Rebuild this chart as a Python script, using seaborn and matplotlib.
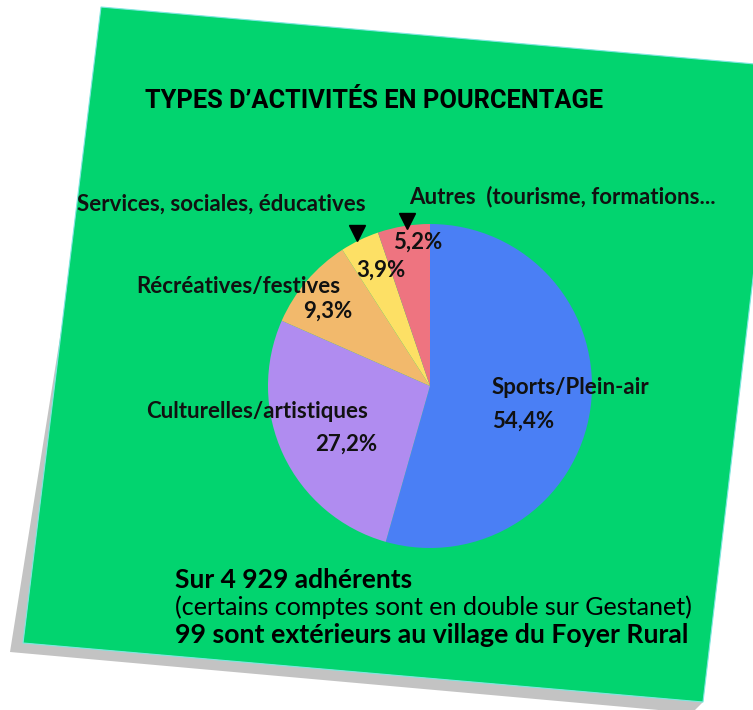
import matplotlib
matplotlib.use("Agg")
import matplotlib.pyplot as plt
from matplotlib.patches import Polygon
import seaborn as sns

sns.set_style("white")
plt.rcParams['font.family'] = ['Lato', 'DejaVu Sans']

# ---- data ----
categories = ["Sports/Plein-air", "Culturelles/artistiques", "Récréatives/festives",
              "Services, sociales, éducatives", "Autres  (tourisme, formations..."]
values = [54.4, 27.2, 9.3, 3.9, 5.2]
pct_labels = ["54,4%", "27,2%", "9,3%", "3,9%", "5,2%"]
colors = ["#4a7ff5", "#b08cf0", "#f2b96c", "#fde065", "#ee7480"]
title = "TYPES D\u2019ACTIVITÉS EN POURCENTAGE"
note_lines = ["Sur 4 929 adhérents",
              "(certains comptes sont en double sur Gestanet)",
              "99 sont extérieurs au village du Foyer Rural"]

W, H = 753, 710
fig = plt.figure(figsize=(W / 100, H / 100), dpi=100)
fig.patch.set_facecolor("white")

bg = fig.add_axes([0, 0, 1, 1])
bg.set_xlim(0, W)
bg.set_ylim(H, 0)
bg.axis("off")

# shadow and sticky note
shadow = Polygon([(66, 300), (10, 652), (692, 713), (703, 702), (23, 643)],
                 closed=True, facecolor="#c3c3c3", edgecolor="none", zorder=1)
bg.add_patch(shadow)
note = Polygon([(101, 7), (778, 66), (703, 702), (23, 643)], closed=True,
               facecolor="#02d46f", edgecolor="#7fe6e0", linewidth=0.8, zorder=2)
bg.add_patch(note)

# title
bg.text(145, 101, title, fontsize=18.3, fontweight="bold", color="black",
        ha="left", va="center", zorder=5, family=["Roboto", "DejaVu Sans"])

# pie
cx, cy, r = 430, 386, 162
pax = fig.add_axes([(cx - r) / W, (H - cy - r) / H, 2 * r / W, 2 * r / H])
pax.pie(values, colors=colors, startangle=90, counterclock=False,
        wedgeprops=dict(linewidth=0))
pax.set_xlim(-1, 1)
pax.set_ylim(-1, 1)
pax.set_aspect("equal")
pax.axis("off")

# labels
top = fig.add_axes([0, 0, 1, 1])
top.set_xlim(0, W)
top.set_ylim(H, 0)
top.axis("off")
top.patch.set_alpha(0)

fs = 16
lab_kw = dict(fontweight="bold", color="#111111", zorder=10, fontsize=fs)
top.text(492, 387, categories[0], ha="left", va="center", **lab_kw)
top.text(492, 421, pct_labels[0], ha="left", va="center", **lab_kw)
top.text(368, 412, categories[1], ha="right", va="center", **lab_kw)
top.text(346, 444, pct_labels[1], ha="center", va="center", **lab_kw)
top.text(340, 286, categories[2], ha="right", va="center", **lab_kw)
top.text(328, 311, pct_labels[2], ha="center", va="center", **lab_kw)
top.text(366, 204, categories[3], ha="right", va="center", **lab_kw)
top.text(409, 197, categories[4], ha="left", va="center", **lab_kw)
top.text(381, 270, pct_labels[3], ha="center", va="center", **lab_kw)
top.text(418, 242, pct_labels[4], ha="center", va="center", **lab_kw)

# arrow heads
top.plot([357.5], [233], marker="v", markersize=12, color="black", zorder=11)
top.plot([407.5], [221], marker="v", markersize=12, color="black", zorder=11)

# bottom notes
top.text(175, 580, note_lines[0], fontsize=19, fontweight="bold", ha="left",
         va="center", color="black")
top.text(175, 607, note_lines[1], fontsize=18.1, fontweight="normal", ha="left",
         va="center", color="black")
top.text(175, 635, note_lines[2], fontsize=19.2, fontweight="bold", ha="left",
         va="center", color="black")

fig.savefig("out.png", dpi=100, facecolor="white")
